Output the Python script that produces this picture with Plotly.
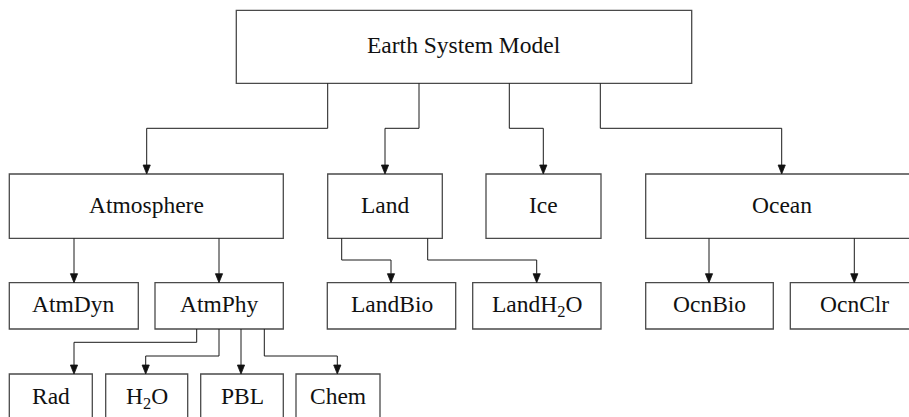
import plotly.graph_objects as go

# ---- data: tree structure ----
nodes = ["Earth System Model", "Atmosphere", "Land", "Ice", "Ocean",
         "AtmDyn", "AtmPhy", "LandBio", "LandH2O", "OcnBio", "OcnClr",
         "Rad", "H2O", "PBL", "Chem"]
parents = ["", "Earth System Model", "Earth System Model", "Earth System Model",
           "Earth System Model", "Atmosphere", "Atmosphere", "Land", "Land",
           "Ocean", "Ocean", "AtmPhy", "AtmPhy", "AtmPhy", "AtmPhy"]
labels = ["Earth System Model", "Atmosphere", "Land", "Ice", "Ocean",
          "AtmDyn", "AtmPhy", "LandBio", "LandH<sub>2</sub>O", "OcnBio", "OcnClr",
          "Rad", "H<sub>2</sub>O", "PBL", "Chem"]
levels = [0, 1, 1, 1, 1, 2, 2, 2, 2, 2, 2, 3, 3, 3, 3]

# ---- layout (pixel-space positions, separate from data) ----
W, H = 909, 417
level_y = {0: (10.3, 83.3), 1: (174.0, 238.3), 2: (282.7, 329.0), 3: (374.0, 420.3)}
box_x = {
    "Earth System Model": (236.3, 691.7),
    "Atmosphere": (9.3, 283.3), "Land": (327.7, 442.3), "Ice": (486.0, 601.0),
    "Ocean": (645.7, 917.7),
    "AtmDyn": (9.3, 138.3), "AtmPhy": (155.0, 283.3), "LandBio": (327.3, 455.7),
    "LandH2O": (472.7, 601.0), "OcnBio": (645.7, 773.3), "OcnClr": (790.3, 918.3),
    "Rad": (9.3, 92.3), "H2O": (105.7, 187.7), "PBL": (200.7, 283.3), "Chem": (296.0, 380.0),
}
# edge routing: child -> (x leaving parent, elbow y or None, x arriving at child)
routes = {
    "Atmosphere": (327.7, 128.3, 146.7), "Land": (419.0, 128.3, 385.0),
    "Ice": (509.3, 128.3, 543.3), "Ocean": (600.3, 128.3, 781.7),
    "AtmDyn": (74.0, None, 74.0), "AtmPhy": (219.0, None, 219.0),
    "LandBio": (341.7, 260.0, 391.0), "LandH2O": (427.7, 260.0, 536.7),
    "OcnBio": (709.0, None, 709.0), "OcnClr": (854.3, None, 854.3),
    "Rad": (196.7, 342.3, 74.0), "H2O": (219.0, 356.0, 145.7),
    "PBL": (241.0, None, 241.0), "Chem": (264.3, 356.0, 337.3),
}
FONT = dict(family="Liberation Serif, Times New Roman, serif", size=23.5, color="#111")
BOX_LINE = dict(color="#4a4a4a", width=1.3)
EDGE_LINE = dict(color="#1a1a1a", width=1)
HEAD_L, HEAD_W = 9, 3.6
TEXT_DY = -1.5   # small upward nudge so cap-height is centred in the box
SUB_DY = 1.5     # compensate for the taller line box of subscripted labels

shapes, annotations = [], []
for name, lab, lev in zip(nodes, labels, levels):
    x0, x1 = box_x[name]
    y0, y1 = level_y[lev]
    shapes.append(dict(type="rect", xref="x", yref="y", x0=x0, x1=x1, y0=y0, y1=y1,
                       line=BOX_LINE, fillcolor="white", layer="above"))
    yc = (y0 + y1) / 2 if lev < 3 else y0 + 23.5
    yc += TEXT_DY + (SUB_DY if "<sub>" in lab else 0)
    annotations.append(dict(x=(x0 + x1) / 2, y=yc, xref="x", yref="y",
                            text=lab, showarrow=False, font=FONT,
                            xanchor="center", yanchor="middle"))

for name, par, lev in zip(nodes, parents, levels):
    if not par:
        continue
    xs, ye, xt = routes[name]
    ytop = level_y[levels[nodes.index(par)]][1]
    ychild = level_y[lev][0]
    if ye is None:
        path = f"M {xs},{ytop} L {xt},{ychild - HEAD_L}"
    else:
        path = f"M {xs},{ytop} L {xs},{ye} L {xt},{ye} L {xt},{ychild - HEAD_L}"
    shapes.append(dict(type="path", xref="x", yref="y", path=path, line=EDGE_LINE))
    head = (f"M {xt - HEAD_W},{ychild - HEAD_L} L {xt + HEAD_W},{ychild - HEAD_L} "
            f"L {xt},{ychild} Z")
    shapes.append(dict(type="path", xref="x", yref="y", path=head,
                       fillcolor="#111", line=dict(color="#111", width=0.8)))

fig = go.Figure()
fig.add_trace(go.Scatter(x=[0, W], y=[0, H], mode="markers",
                         marker=dict(opacity=0), hoverinfo="skip", showlegend=False))
fig.update_layout(
    width=W, height=H, margin=dict(l=0, r=0, t=0, b=0),
    paper_bgcolor="white", plot_bgcolor="white",
    xaxis=dict(range=[0, W], visible=False, fixedrange=True),
    yaxis=dict(range=[H, 0], visible=False, fixedrange=True),
    shapes=shapes, annotations=annotations, showlegend=False,
)
fig.write_html("out.html", config={"displayModeBar": False},
               post_script="document.body.style.margin='0px';document.body.style.overflow='hidden';")
